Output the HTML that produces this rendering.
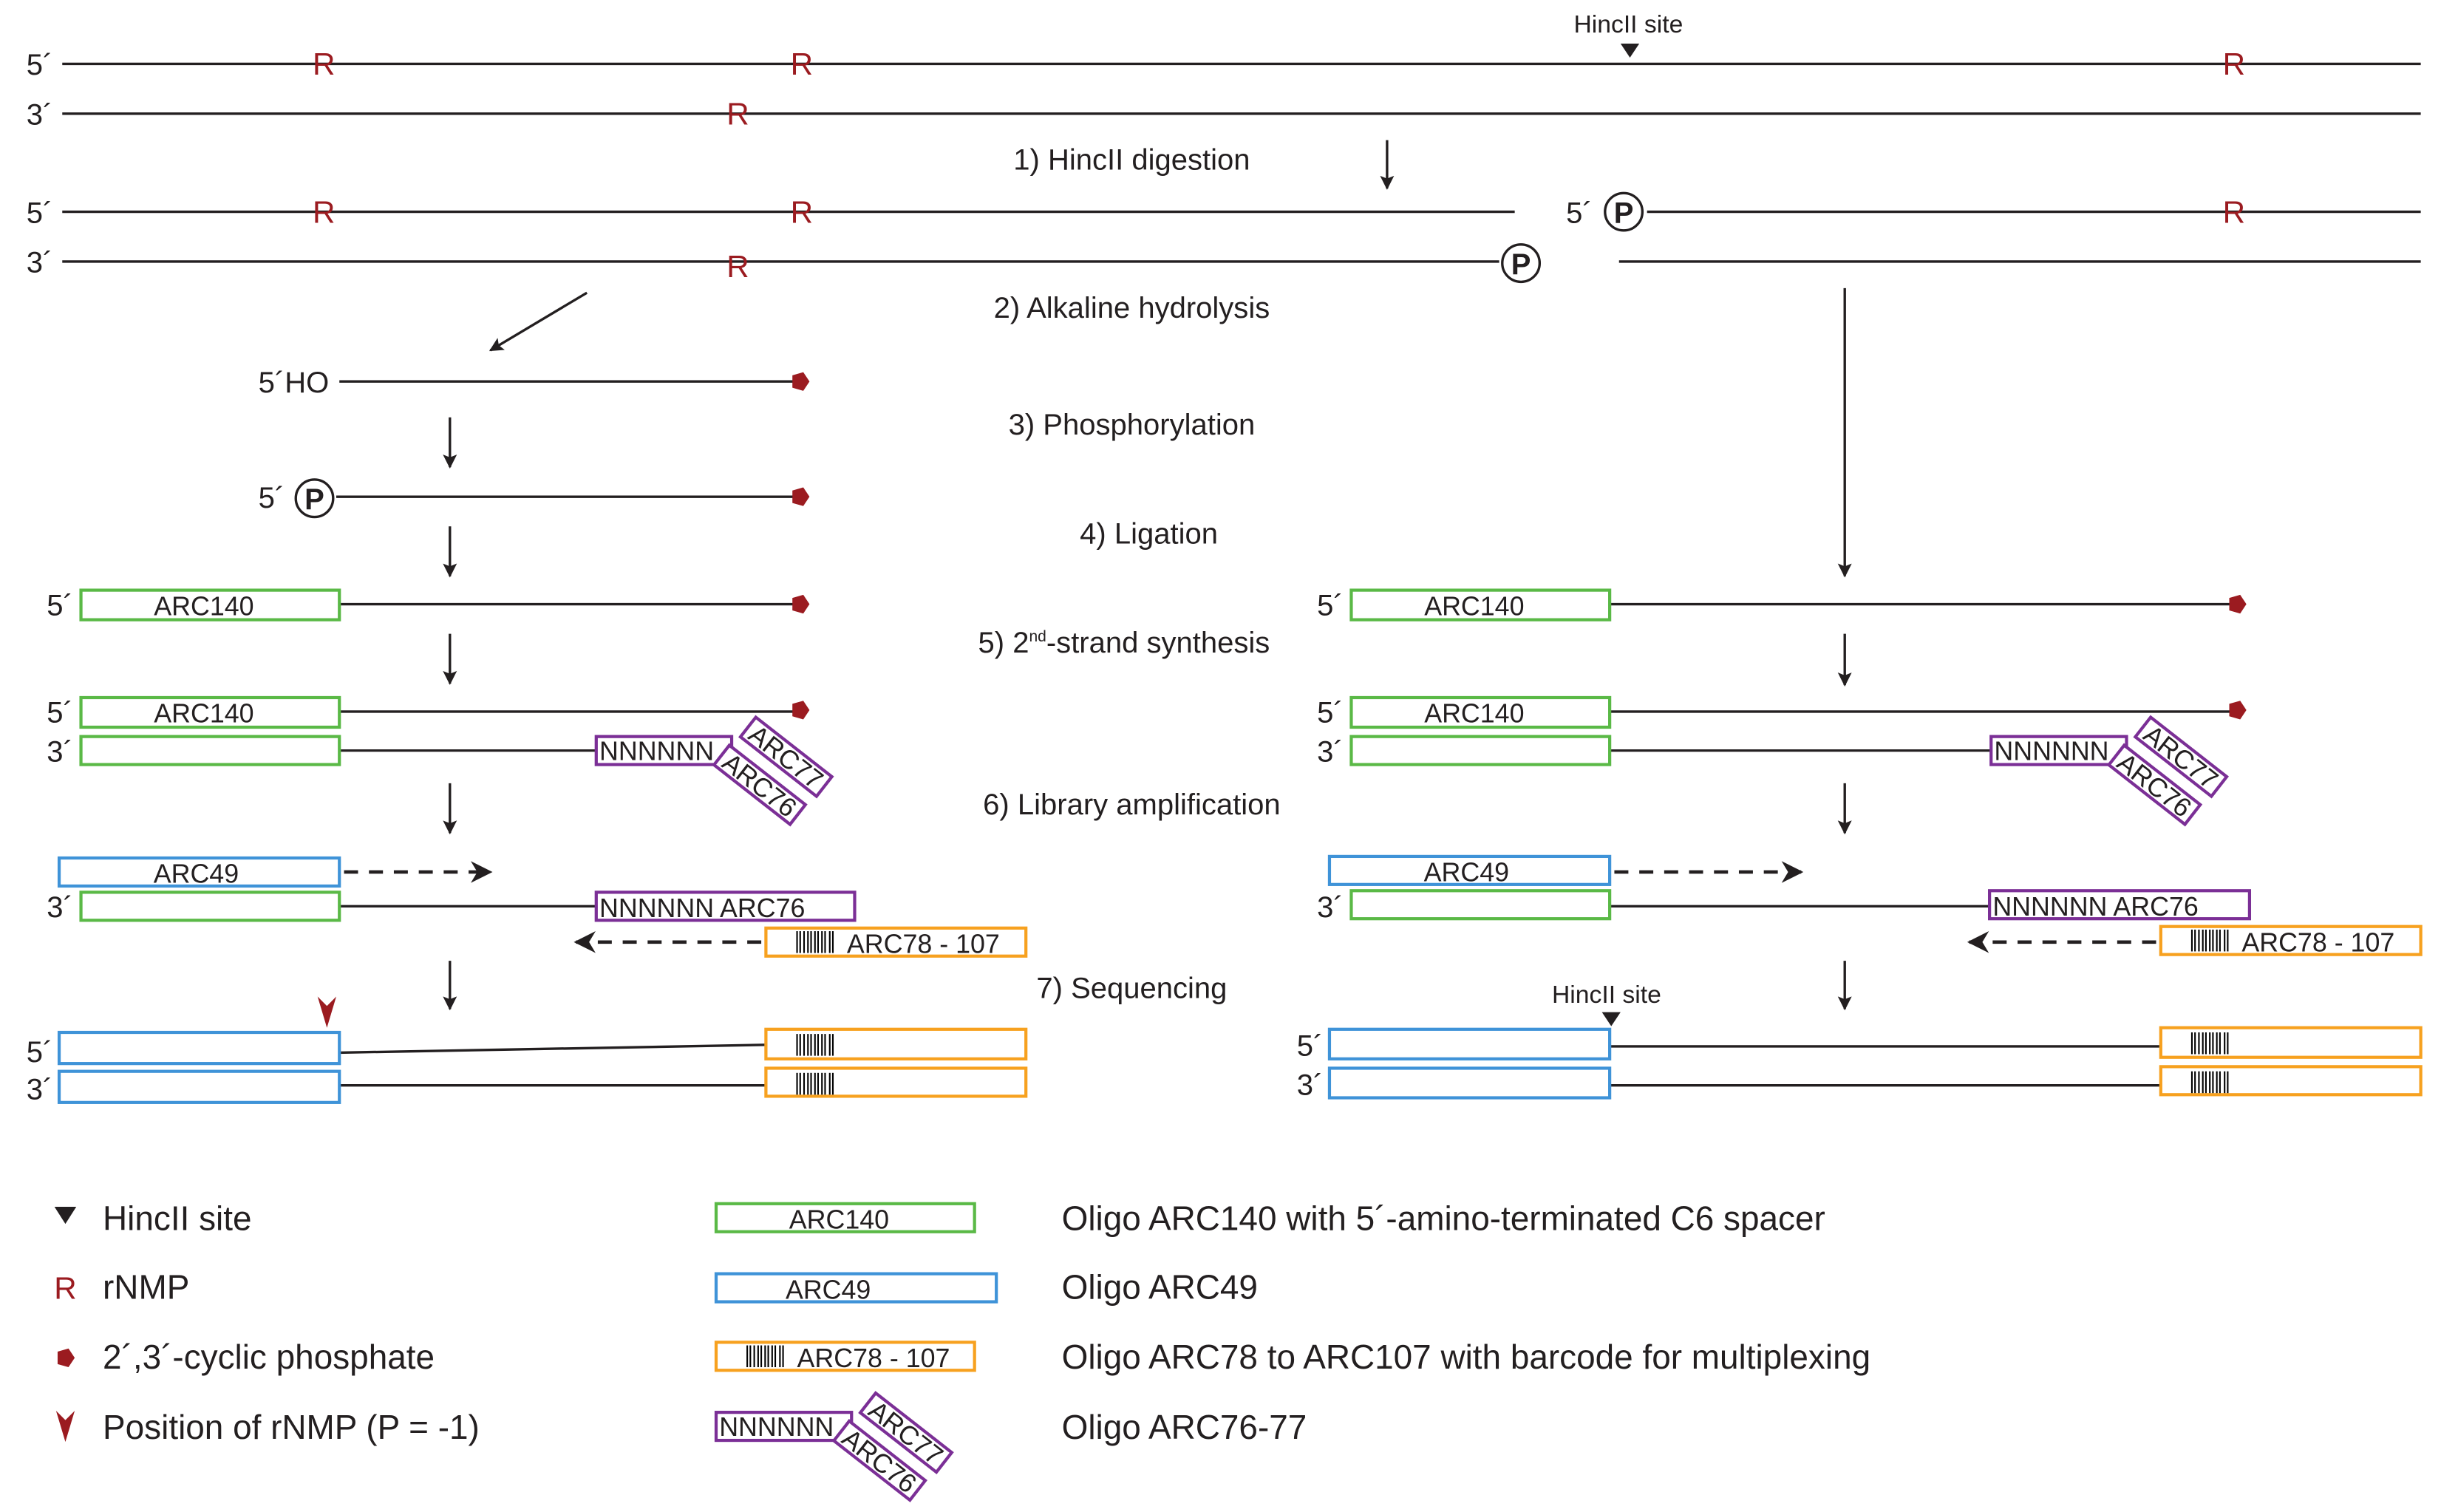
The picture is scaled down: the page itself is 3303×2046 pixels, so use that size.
<!DOCTYPE html>
<html><head><meta charset="utf-8"><style>
html,body{margin:0;padding:0;background:#fff;}
svg{display:block;width:3303px;height:2046px;}
text{font-family:"Liberation Sans",sans-serif;fill:#231f20;}
</style></head><body>
<svg viewBox="0 0 1568 971" preserveAspectRatio="none" xmlns="http://www.w3.org/2000/svg">
<defs>
<marker id="ah" viewBox="0 0 10 10" refX="9" refY="5" markerWidth="9" markerHeight="9" markerUnits="userSpaceOnUse" orient="auto"><path d="M0,0 L10,5 L0,10 L2,5z" fill="#231f20"/></marker>
<marker id="ahd" viewBox="0 0 10 10" refX="9" refY="5" markerWidth="14" markerHeight="14" markerUnits="userSpaceOnUse" orient="auto"><path d="M0,0 L10,5 L0,10 L3,5z" fill="#231f20"/></marker>
<g id="pent"><polygon points="0,-6 6,-2 4,5 -4,5 -6,-2" fill="#9b1b20" transform="rotate(90)"/></g>
<g id="cp"><circle r="12" fill="#fff" stroke="#231f20" stroke-width="1.6"/><text x="0" y="7" font-size="19" font-weight="bold" text-anchor="middle">P</text></g>
<g id="bar" stroke="#000" stroke-width="1"><line x1="20" y1="2" x2="20" y2="16"/><line x1="22" y1="2" x2="22" y2="16"/><line x1="24.5" y1="2" x2="24.5" y2="16"/><line x1="27" y1="2" x2="27" y2="16"/><line x1="29" y1="2" x2="29" y2="16"/><line x1="31.5" y1="2" x2="31.5" y2="16"/><line x1="33.5" y1="2" x2="33.5" y2="16"/><line x1="36" y1="2" x2="36" y2="16"/><line x1="38" y1="2" x2="38" y2="16"/><line x1="41" y1="2" x2="41" y2="16"/><line x1="43" y1="2" x2="43" y2="16"/></g>
<g id="purp">
<rect x="0" y="0" width="87" height="18" fill="#fff" stroke="#7b2f96" stroke-width="2"/>
<text x="2" y="15" font-size="17">NNNNNN</text>
<g transform="translate(122,13) rotate(38)"><rect x="-31" y="-8" width="62" height="16" fill="#fff" stroke="#7b2f96" stroke-width="2"/><text x="0" y="6" font-size="17" text-anchor="middle">ARC77</text></g>
<g transform="translate(105,31) rotate(38)"><rect x="-31" y="-8" width="62" height="16" fill="#fff" stroke="#7b2f96" stroke-width="2"/><text x="0" y="6" font-size="17" text-anchor="middle">ARC76</text></g>
</g>
<g id="chev"><path d="M-6,0 L0,6 L6,0 L0,20z" fill="#9b1b20"/></g>
</defs>

<g stroke="#231f20" stroke-width="1.6" fill="none">
<line x1="40" y1="41" x2="1555" y2="41"/>
<line x1="40" y1="73" x2="1555" y2="73"/>
<line x1="40" y1="136" x2="973" y2="136"/>
<line x1="1058" y1="136" x2="1555" y2="136"/>
<line x1="40" y1="168" x2="963" y2="168"/>
<line x1="1040" y1="168" x2="1555" y2="168"/>
<line x1="218" y1="245" x2="512" y2="245"/>
<line x1="216" y1="319" x2="512" y2="319"/>
<line x1="218" y1="388" x2="512" y2="388"/>
<line x1="1034" y1="388" x2="1435" y2="388"/>
<line x1="218" y1="457" x2="512" y2="457"/>
<line x1="1034" y1="457" x2="1435" y2="457"/>
<line x1="218" y1="482" x2="383" y2="482"/>
<line x1="1034" y1="482" x2="1279" y2="482"/>
<line x1="218" y1="582" x2="383" y2="582"/>
<line x1="1034" y1="582" x2="1278" y2="582"/>
<line x1="218" y1="676" x2="492" y2="671"/>
<line x1="218" y1="697" x2="492" y2="697"/>
<line x1="1034" y1="672" x2="1388" y2="672"/>
<line x1="1034" y1="697" x2="1388" y2="697"/>
<line x1="891" y1="90" x2="891" y2="121" marker-end="url(#ah)"/>
<line x1="377" y1="188" x2="315" y2="225" marker-end="url(#ah)"/>
<line x1="1185" y1="185" x2="1185" y2="370" marker-end="url(#ah)"/>
<line x1="289" y1="268" x2="289" y2="300" marker-end="url(#ah)"/>
<line x1="289" y1="338" x2="289" y2="370" marker-end="url(#ah)"/>
<line x1="289" y1="407" x2="289" y2="439" marker-end="url(#ah)"/>
<line x1="1185" y1="407" x2="1185" y2="440" marker-end="url(#ah)"/>
<line x1="289" y1="503" x2="289" y2="535" marker-end="url(#ah)"/>
<line x1="1185" y1="503" x2="1185" y2="535" marker-end="url(#ah)"/>
<line x1="289" y1="617" x2="289" y2="648" marker-end="url(#ah)"/>
<line x1="1185" y1="617" x2="1185" y2="648" marker-end="url(#ah)"/>
<g stroke-width="2.2" stroke-dasharray="9,7">
<line x1="221" y1="560" x2="315" y2="560" marker-end="url(#ahd)"/>
<line x1="1037" y1="560" x2="1157" y2="560" marker-end="url(#ahd)"/>
<line x1="489" y1="605" x2="370" y2="605" marker-end="url(#ahd)"/>
<line x1="1385" y1="605" x2="1265" y2="605" marker-end="url(#ahd)"/>
</g>
</g>

<g font-size="19">
<text x="17" y="48">5´</text><text x="17" y="80">3´</text>
<text x="17" y="143">5´</text><text x="17" y="175">3´</text>
<text x="1006" y="143">5´</text>
<text x="166" y="252">5´HO</text>
<text x="166" y="326">5´</text>
<text x="30" y="395">5´</text><text x="846" y="395">5´</text>
<text x="30" y="464">5´</text><text x="846" y="464">5´</text>
<text x="30" y="489">3´</text><text x="846" y="489">3´</text>
<text x="30" y="589">3´</text><text x="846" y="589">3´</text>
<text x="17" y="682">5´</text><text x="833" y="678">5´</text>
<text x="17" y="706">3´</text><text x="833" y="703">3´</text>
</g>
<g font-size="20" text-anchor="middle">
<text x="208" y="48" style="fill:#9b1b20">R</text><text x="515" y="48" style="fill:#9b1b20">R</text><text x="1435" y="48" style="fill:#9b1b20">R</text>
<text x="474" y="80" style="fill:#9b1b20">R</text>
<text x="208" y="143" style="fill:#9b1b20">R</text><text x="515" y="143" style="fill:#9b1b20">R</text><text x="1435" y="143" style="fill:#9b1b20">R</text>
<text x="474" y="178" style="fill:#9b1b20">R</text>
</g>
<text x="1046" y="21" font-size="16" text-anchor="middle">HincII site</text>
<polygon points="1041,28 1053,28 1047,37" fill="#231f20"/>
<text x="1032" y="644" font-size="16" text-anchor="middle">HincII site</text>
<polygon points="1029,650 1041,650 1035,659" fill="#231f20"/>

<use href="#cp" x="1043" y="136"/>
<use href="#cp" x="977" y="169"/>
<use href="#cp" x="202" y="320"/>
<use href="#pent" x="514" y="245"/>
<use href="#pent" x="514" y="319"/>
<use href="#pent" x="514" y="388"/>
<use href="#pent" x="1437" y="388"/>
<use href="#pent" x="514" y="456"/>
<use href="#pent" x="1437" y="456"/>

<g font-size="19" text-anchor="middle">
<text x="727" y="109">1) HincII digestion</text>
<text x="727" y="204">2) Alkaline hydrolysis</text>
<text x="727" y="279">3) Phosphorylation</text>
<text x="738" y="349">4) Ligation</text>
<text x="722" y="419">5) 2<tspan font-size="10" dy="-7">nd</tspan><tspan dy="7">-strand synthesis</tspan></text>
<text x="727" y="523">6) Library amplification</text>
<text x="727" y="641">7) Sequencing</text>
</g>

<g fill="#fff" stroke-width="2">
<rect x="52" y="379" width="166" height="19" stroke="#5ab946"/>
<rect x="868" y="379" width="166" height="19" stroke="#5ab946"/>
<rect x="52" y="448" width="166" height="19" stroke="#5ab946"/>
<rect x="868" y="448" width="166" height="19" stroke="#5ab946"/>
<rect x="52" y="473" width="166" height="18" stroke="#5ab946"/>
<rect x="868" y="473" width="166" height="18" stroke="#5ab946"/>
<rect x="38" y="551" width="180" height="18" stroke="#3f93d8"/>
<rect x="854" y="550" width="180" height="18" stroke="#3f93d8"/>
<rect x="52" y="573" width="166" height="18" stroke="#5ab946"/>
<rect x="868" y="572" width="166" height="18" stroke="#5ab946"/>
<rect x="383" y="573" width="166" height="18" stroke="#7b2f96"/>
<rect x="1278" y="572" width="167" height="18" stroke="#7b2f96"/>
<rect x="492" y="596" width="167" height="18" stroke="#f7a11f"/>
<rect x="1388" y="595" width="167" height="18" stroke="#f7a11f"/>
<rect x="38" y="663" width="180" height="20" stroke="#3f93d8"/>
<rect x="38" y="688" width="180" height="20" stroke="#3f93d8"/>
<rect x="854" y="661" width="180" height="19" stroke="#3f93d8"/>
<rect x="854" y="686" width="180" height="19" stroke="#3f93d8"/>
<rect x="492" y="661" width="167" height="19" stroke="#f7a11f"/>
<rect x="492" y="686" width="167" height="18" stroke="#f7a11f"/>
<rect x="1388" y="660" width="167" height="19" stroke="#f7a11f"/>
<rect x="1388" y="685" width="167" height="18" stroke="#f7a11f"/>
<rect x="460" y="773" width="166" height="18" stroke="#5ab946"/>
<rect x="460" y="818" width="180" height="18" stroke="#3f93d8"/>
<rect x="460" y="862" width="166" height="18" stroke="#f7a11f"/>
</g>
<use href="#bar" x="492" y="596"/><use href="#bar" x="1388" y="595"/>
<use href="#bar" x="492" y="662"/><use href="#bar" x="492" y="687"/>
<use href="#bar" x="1388" y="661"/><use href="#bar" x="1388" y="686"/>
<use href="#bar" x="460" y="862"/>
<g font-size="17" text-anchor="middle">
<text x="131" y="395">ARC140</text><text x="947" y="395">ARC140</text>
<text x="131" y="464">ARC140</text><text x="947" y="464">ARC140</text>
<text x="126" y="567">ARC49</text><text x="942" y="566">ARC49</text>
<text x="539" y="789">ARC140</text>
<text x="532" y="834">ARC49</text>
</g>
<g font-size="17">
<text x="385" y="589">NNNNNN  ARC76</text><text x="1280" y="588">NNNNNN  ARC76</text>
<text x="544" y="612">ARC78 - 107</text><text x="1440" y="611">ARC78 - 107</text>
<text x="512" y="878">ARC78 - 107</text>
</g>
<use href="#purp" x="383" y="473"/>
<use href="#purp" x="1279" y="473"/>
<use href="#purp" x="460" y="907"/>
<use href="#chev" x="210" y="640"/>

<polygon points="35,775 49,775 42,786" fill="#231f20"/>
<text x="42" y="834" font-size="20" text-anchor="middle" style="fill:#9b1b20">R</text>
<use href="#pent" x="42" y="872"/>
<use href="#chev" x="42" y="906"/>
<g font-size="21.8">
<text x="66" y="790">HincII site</text>
<text x="66" y="834">rNMP</text>
<text x="66" y="879">2´,3´-cyclic phosphate</text>
<text x="66" y="924">Position of rNMP (P = -1)</text>
<text x="682" y="790">Oligo ARC140 with 5´-amino-terminated C6 spacer</text>
<text x="682" y="834">Oligo ARC49</text>
<text x="682" y="879">Oligo ARC78 to ARC107 with barcode for multiplexing</text>
<text x="682" y="924">Oligo ARC76-77</text>
</g>
</svg>
</body></html>
